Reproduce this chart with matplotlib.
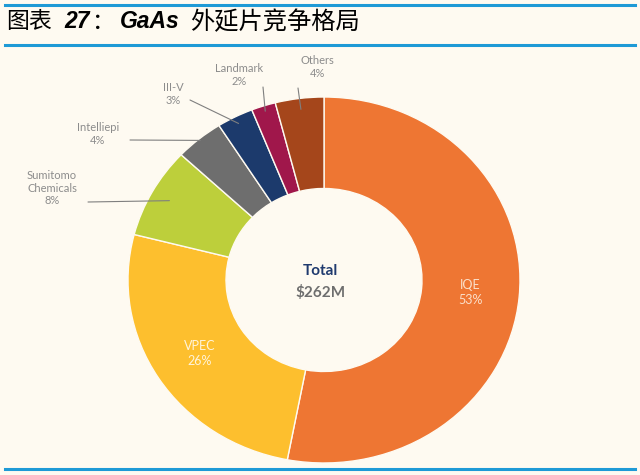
import numpy as np
import matplotlib
matplotlib.use('Agg')
import matplotlib.pyplot as plt
from matplotlib.lines import Line2D

# data
companies = ['IQE', 'VPEC', 'Sumitomo\nChemicals', 'Intelliepi', 'III-V', 'Landmark', 'Others']
shares = [53, 26, 8, 4, 3, 2, 4]
colors = ['#EE7633', '#FDBF2E', '#BDCF3B', '#6E6E6E', '#1C3A6C', '#A0174B', '#A5461B']
total_label = '$262M'

bg = '#FEFAF1'
W, H = 640, 475

fig = plt.figure(figsize=(6.4, 4.75), dpi=100, facecolor=bg)

# pie centre ~ (324, 280) px, slightly wider than tall
cx, cy, rx, ry = 324, 280, 196, 183
ax = fig.add_axes([(cx - rx) / W, (H - cy - ry) / H, 2 * rx / W, 2 * ry / H])
ax.set_facecolor(bg)
wedges, _ = ax.pie(shares, colors=colors, startangle=90, counterclock=False,
                   radius=1.0, wedgeprops=dict(width=0.5, edgecolor=bg, linewidth=1.0))
ax.set_aspect('auto')
ax.set_xlim(-1, 1)
ax.set_ylim(-1, 1)
ax.axis('off')

lab_font = 'Lato'
grey = '#8C8C8C'

def mid(w, r):
    a = np.deg2rad((w.theta1 + w.theta2) / 2)
    return r * np.cos(a), r * np.sin(a)

# labels inside the two big wedges
inside = {0: '#FBE0CB', 1: '#FFF4DA'}
for i, c in inside.items():
    x, y = mid(wedges[i], 0.75)
    ax.text(x, y, '%s\n%d%%' % (companies[i], shares[i]), ha='center', va='center',
            color=c, fontsize=9, family=lab_font, linespacing=1.3)

# outside labels (pixel positions of the text, start of leader, radius where it ends)
outside = {
    6: ((317, 67), (298, 88), 0.94),
    5: ((239, 75), (263, 87), 0.97),
    4: ((173, 94), (190, 100), 0.96),
    3: ((98, 134), (130, 140), 0.99),
    2: ((52, 188), (88, 202), 0.9),
}
for i, (tp, lp, r) in outside.items():
    fig.text(tp[0] / W, 1 - tp[1] / H, '%s\n%d%%' % (companies[i], shares[i]),
             ha='center', va='center', color=grey, fontsize=8, family=lab_font,
             linespacing=1.2)
    ax.annotate('', xy=mid(wedges[i], r), xytext=(lp[0], H - lp[1]),
                textcoords='figure pixels',
                arrowprops=dict(arrowstyle='-', color='#7F7F7F', lw=0.8,
                                shrinkA=0, shrinkB=0), annotation_clip=False)

# centre text
ax.text(-0.02, 0.05, 'Total', ha='center', va='center', color='#1F3A6E',
        fontsize=11, fontweight='bold', family=lab_font)
ax.text(-0.02, -0.07, total_label, ha='center', va='center', color='#6E6E6E',
        fontsize=11, fontweight='bold', family=lab_font)

# title in pieces: CJK regular, latin bold italic
ty = 1 - 22 / H
cjk = ['Noto Sans CJK SC', 'DejaVu Sans']
fig.text(6 / W, ty, '图表', ha='left', va='center', fontsize=16.5, family=cjk, color='black')
fig.text(64 / W, ty, '27', ha='left', va='center', fontsize=16.5, fontweight='bold',
         style='italic', family='Liberation Sans', color='black')
fig.text(92 / W, ty, '：', ha='left', va='center', fontsize=16.5, family=cjk, color='black')
fig.text(120 / W, ty, 'GaAs', ha='left', va='center', fontsize=16.5, fontweight='bold',
         style='italic', family='Liberation Sans', color='black')
fig.text(190 / W, ty, '外延片竞争格局', ha='left', va='center', fontsize=17.5,
         family=cjk, color='black')

# blue rules
for yy in (5, 45, 469):
    fig.add_artist(Line2D([5 / W, 635 / W], [1 - yy / H, 1 - yy / H],
                          color='#1E9AD6', lw=2.2, transform=fig.transFigure))

fig.savefig('out.png', dpi=100, facecolor=bg)
